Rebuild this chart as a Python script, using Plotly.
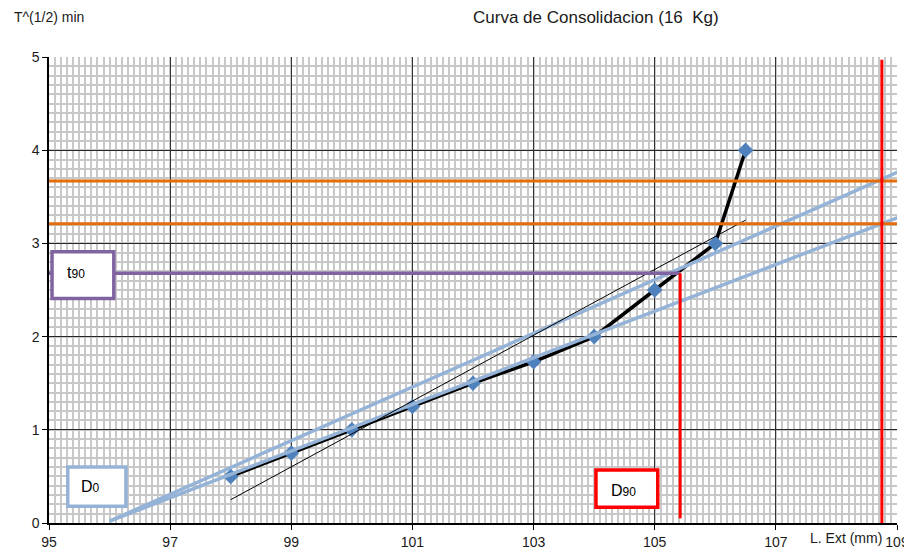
import plotly.graph_objects as go

# Consolidation readings: L. Ext (mm) vs sqrt(t)
ext_mm = [98, 99, 100, 101, 102, 103, 104, 105, 106, 106.5]
sqrt_t = [0.5, 0.75, 1.0, 1.25, 1.5, 1.73, 2.0, 2.5, 3.0, 4.0]

# construction lines
tangent_x = [98, 106.5]
tangent_y = [0.25, 3.25]
d0_low_x = [96, 109.1]
d0_low_y = [0.02, 3.3]
d0_high_x = [96, 109.1]
d0_high_y = [0.02, 3.79]
orange_x = [95, 109]
orange_y_upper = [3.67, 3.67]
orange_y_lower = [3.21, 3.21]
t90_x = [95, 105.42]
t90_y = [2.68, 2.68]
d90_x = [105.42, 105.42]
d90_y = [0.05, 2.68]
d100_x = [108.75, 108.75]
d100_y = [-0.03, 4.97]

x_ticks = [95, 97, 99, 101, 103, 105, 107, 109]
y_ticks = [0, 1, 2, 3, 4, 5]

FONT = "Arial, Liberation Sans, sans-serif"
BLUE = "#4F81BD"
LIGHT_BLUE = "#95B3D7"
ORANGE = "#E46C0A"
PURPLE = "#8064A2"
RED = "#FF0000"

fig = go.Figure()

# measured curve
fig.add_trace(go.Scatter(
    x=ext_mm, y=sqrt_t, mode="lines+markers",
    line=dict(color="black", width=3.5),
    marker=dict(symbol="diamond", size=12, color=BLUE),
    cliponaxis=False,
))

# D0 reference lines
for yy in (d0_low_y, d0_high_y):
    fig.add_trace(go.Scatter(
        x=d0_low_x, y=yy, mode="lines",
        line=dict(color=LIGHT_BLUE, width=3.5),
    ))

# thin tangent
fig.add_trace(go.Scatter(
    x=tangent_x, y=tangent_y, mode="lines",
    line=dict(color="black", width=1),
))

# horizontal orange lines
for yy in (orange_y_upper, orange_y_lower):
    fig.add_trace(go.Scatter(
        x=orange_x, y=yy, mode="lines",
        line=dict(color=ORANGE, width=3),
    ))

# t90 line
fig.add_trace(go.Scatter(
    x=t90_x, y=t90_y, mode="lines",
    line=dict(color=PURPLE, width=3.5),
))

# red verticals
for xx, yy in ((d90_x, d90_y), (d100_x, d100_y)):
    fig.add_trace(go.Scatter(
        x=xx, y=yy, mode="lines",
        line=dict(color=RED, width=3),
        cliponaxis=False,
    ))

# label boxes
boxes = [
    (95.05, 96.07, 2.41, 2.91, PURPLE),
    (95.31, 96.27, 0.18, 0.60, LIGHT_BLUE),
    (104.03, 105.05, 0.17, 0.57, RED),
]
for x0, x1, y0, y1, c in boxes:
    fig.add_shape(type="rect", xref="x", yref="y", x0=x0, x1=x1, y0=y0, y1=y1,
                  line=dict(color=c, width=3.5), fillcolor="white", layer="above")

labels = [
    (95.45, 2.69, 't<span style="font-size:12px">90</span>'),
    (95.68, 0.39, 'D<span style="font-size:12px">0</span>'),
    (104.49, 0.35, 'D<span style="font-size:12px">90</span>'),
]
for lx, ly, txt in labels:
    fig.add_annotation(x=lx, y=ly, text=txt, showarrow=False,
                       font=dict(family=FONT, size=16, color="black"))

fig.add_annotation(xref="paper", yref="paper", x=-0.0436, y=1.086,
                   xanchor="left", yanchor="middle", showarrow=False,
                   text="T^(1/2) min", font=dict(family=FONT, size=14, color="#1a1a1a"))
fig.add_annotation(xref="paper", yref="paper", x=0.645, y=1.084,
                   xanchor="center", yanchor="middle", showarrow=False,
                   text="Curva de Consolidacion (16  Kg)",
                   font=dict(family=FONT, size=17, color="#1a1a1a"))
fig.add_annotation(xref="x", yref="paper", x=108.78, y=0, yshift=-15,
                   xanchor="right", yanchor="middle", showarrow=False,
                   text="L. Ext (mm)", font=dict(family=FONT, size=14, color="#1a1a1a"))

# page body adds an 8px margin, so the figure is sized to sit inside it
fig.update_layout(
    width=904, height=541,
    margin=dict(l=41, r=15, t=49, b=26, autoexpand=False),
    paper_bgcolor="white", plot_bgcolor="white",
    showlegend=False,
    font=dict(family=FONT, size=13, color="#1a1a1a"),
)

fig.update_xaxes(
    range=[95, 109], tickvals=x_ticks, ticks="outside", ticklen=5, tickcolor="black",
    showline=True, linecolor="black", linewidth=1.5, automargin=False,
    showgrid=True, gridcolor="#333333", gridwidth=1.2,
    minor=dict(dtick=0.1, tick0=95, showgrid=True, gridcolor="#c8c8c8", gridwidth=2),
    zeroline=False, tickfont=dict(size=14),
)
fig.update_yaxes(
    range=[0, 5], tickvals=y_ticks, ticks="outside", ticklen=5, tickcolor="black",
    showline=True, linecolor="black", linewidth=1.5, automargin=False,
    showgrid=True, gridcolor="#262626", gridwidth=1.2,
    minor=dict(dtick=0.1, tick0=0, showgrid=True, gridcolor="#c8c8c8", gridwidth=2),
    zeroline=False, tickfont=dict(size=14),
)

fig.write_html("out.html")
